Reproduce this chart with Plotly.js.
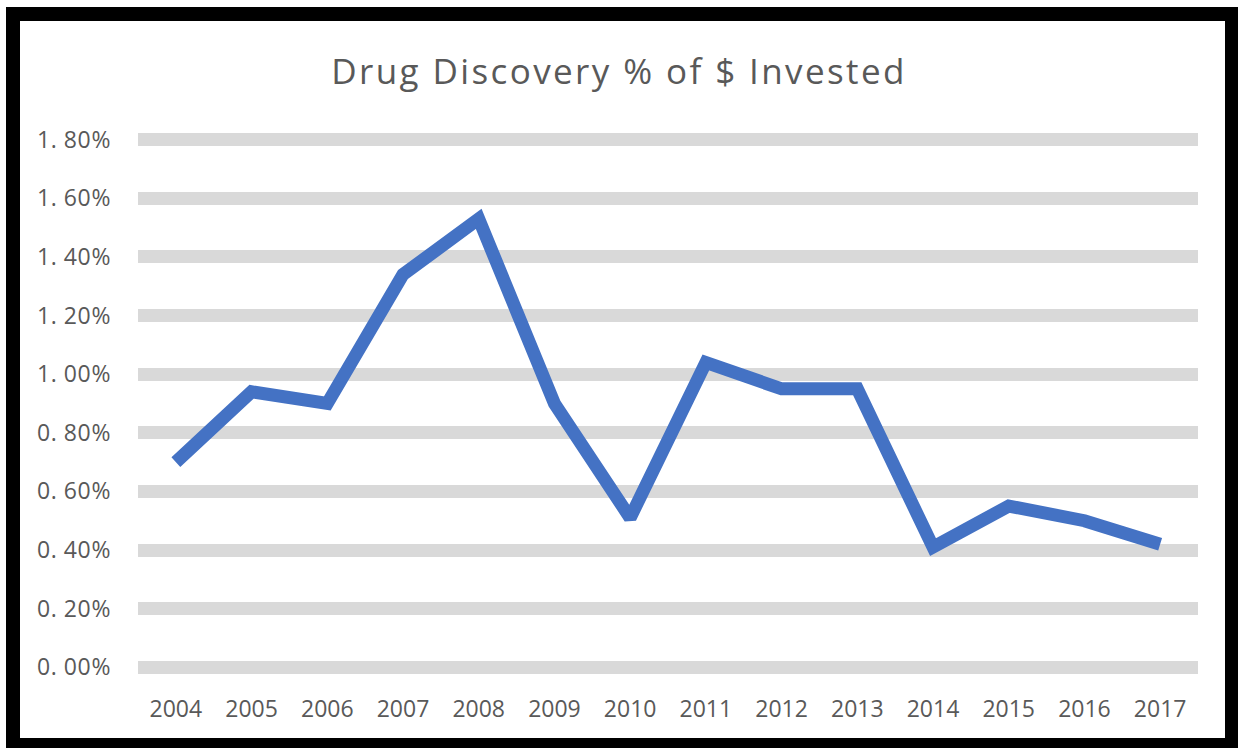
<!DOCTYPE html>
<html>
<head>
<meta charset="utf-8">
<script src="https://cdn.plot.ly/plotly-3.0.1.min.js"></script>
<style>
  html, body { margin: 0; padding: 0; background: #ffffff; }
  #chart { width: 1238px; height: 748px; }
  #chart .gtitle { letter-spacing: 2.4px; }
  #chart .ytick text { letter-spacing: 0.6px; }
</style>
</head>
<body>
<div id="chart"></div>
<script>
const years = ['2004','2005','2006','2007','2008','2009','2010','2011','2012','2013','2014','2015','2016','2017'];
const pctInvested = [0.70, 0.94, 0.90, 1.34, 1.53, 0.90, 0.51, 1.04, 0.95, 0.95, 0.41, 0.55, 0.50, 0.42];
const yTickVals = [0, 0.2, 0.4, 0.6, 0.8, 1.0, 1.2, 1.4, 1.6, 1.8];
const yTickText = ['0. 00%', '0. 20%', '0. 40%', '0. 60%', '0. 80%', '1. 00%', '1. 20%', '1. 40%', '1. 60%', '1. 80%'];
const chartTitle = 'Drug Discovery % of $ Invested';

const FONT = '"Open Sans", "Liberation Sans", sans-serif';
const TXT = '#595959';

const trace = {
  type: 'scatter',
  mode: 'lines',
  x: years,
  y: pctInvested,
  line: { color: '#4472c4', width: 13, shape: 'linear' },
  hoverinfo: 'x+y'
};

const layout = {
  width: 1238,
  height: 748,
  paper_bgcolor: '#ffffff',
  plot_bgcolor: '#ffffff',
  margin: { l: 138, r: 40, t: 128, b: 69 },
  showlegend: false,
  title: {
    text: chartTitle,
    x: 0.5,
    xanchor: 'center',
    y: 1 - 72 / 748,
    yanchor: 'middle',
    yref: 'container',
    font: { family: FONT, size: 35, color: TXT }
  },
  xaxis: {
    type: 'category',
    tickmode: 'array',
    tickvals: years,
    ticktext: years,
    showgrid: false,
    zeroline: false,
    showline: false,
    ticks: '',
    ticklabelstandoff: 14,
    tickfont: { family: FONT, size: 23, color: TXT },
    range: [-0.5, years.length - 0.5],
    fixedrange: true
  },
  yaxis: {
    range: [-0.04, 1.84],
    tickmode: 'array',
    tickvals: yTickVals,
    ticktext: yTickText,
    showgrid: true,
    gridcolor: '#d9d9d9',
    gridwidth: 13,
    zeroline: false,
    showline: false,
    ticks: '',
    ticklabelstandoff: 26,
    tickfont: { family: FONT, size: 23, color: TXT },
    fixedrange: true
  },
  shapes: [
    {
      type: 'rect',
      xref: 'paper', yref: 'paper',
      x0: (13 - 138) / 1060, x1: (1232 - 138) / 1060,
      y0: (679 - 745) / 551, y1: (679 - 14) / 551,
      line: { color: '#000000', width: 14 },
      fillcolor: 'rgba(0,0,0,0)',
      layer: 'above'
    }
  ]
};

Plotly.newPlot('chart', [trace], layout, { displayModeBar: false, staticPlot: true });
</script>
</body>
</html>
